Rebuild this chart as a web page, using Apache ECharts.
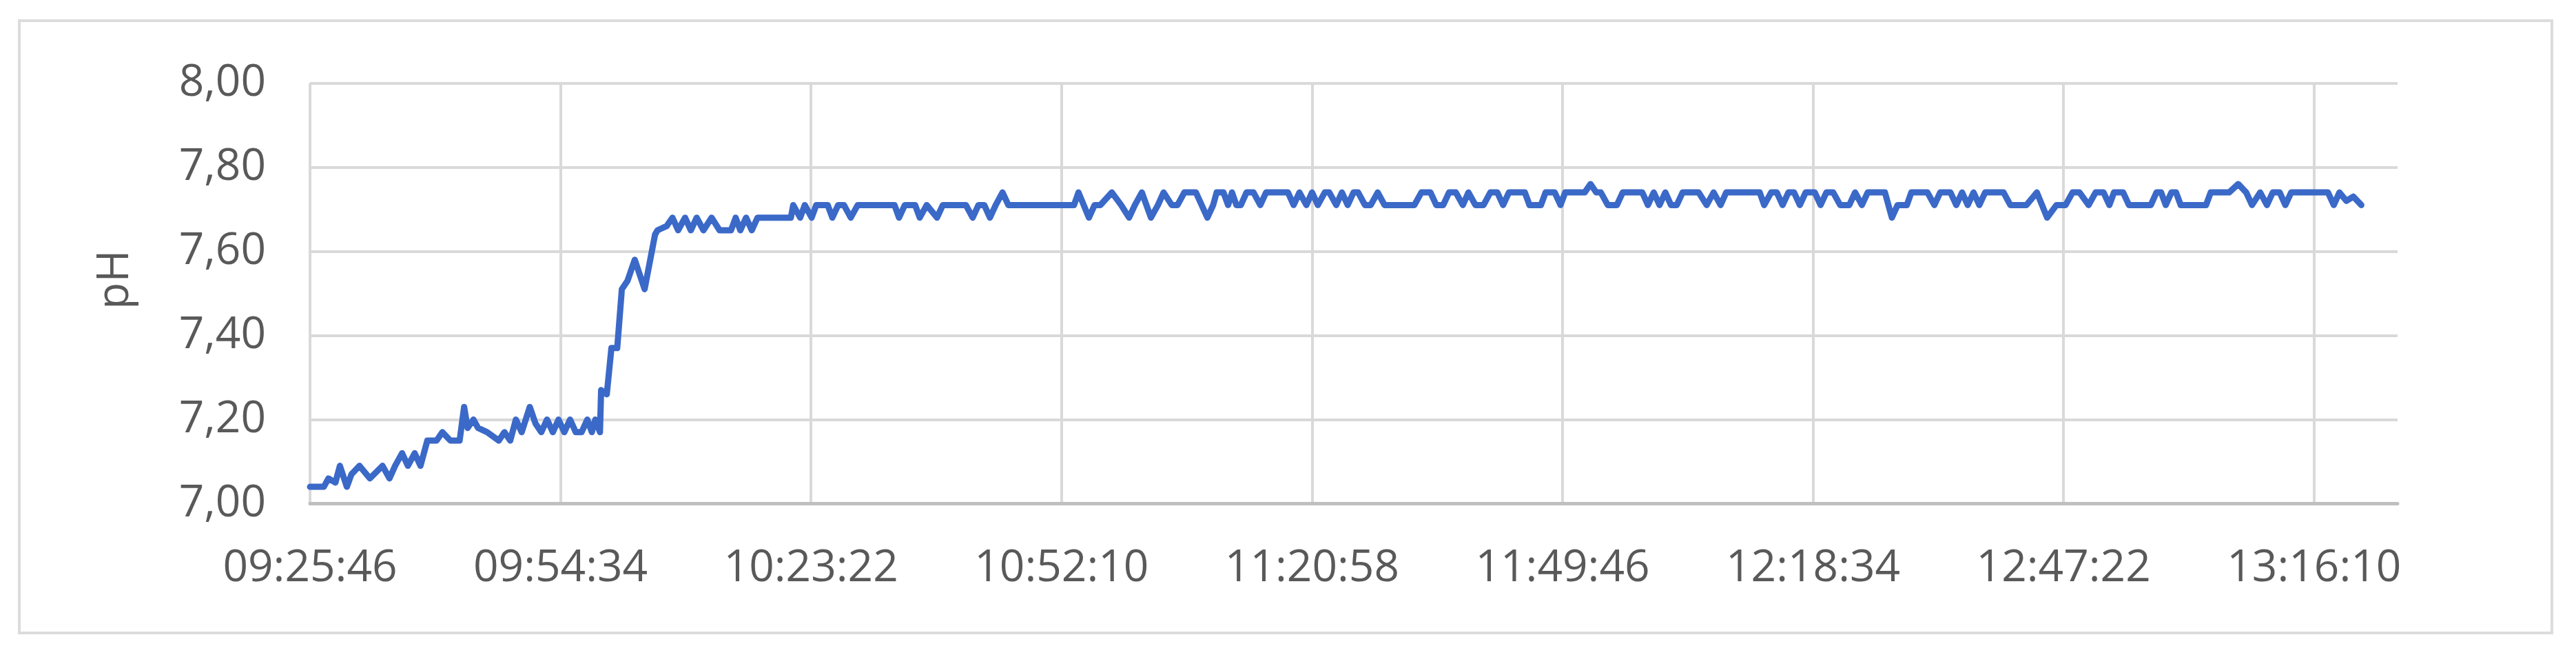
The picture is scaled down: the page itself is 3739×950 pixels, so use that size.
<!DOCTYPE html>
<html>
<head>
<meta charset="utf-8">
<script src="https://cdn.jsdelivr.net/npm/echarts@6/dist/echarts.min.js"></script>
<style>
  html, body { margin: 0; padding: 0; background: #fff; }
  #chart { width: 3739px; height: 950px; }
</style>
</head>
<body>
<div id="chart"></div>
<script>
// start of the log, seconds since midnight (09:25:46)
var startClock = 9 * 3600 + 25 * 60 + 46;

// elapsed seconds from start
var elapsedSec = [
  0, 95, 127, 175, 206, 254, 286, 341, 413, 500, 548, 587, 635, 675, 722, 762,
  809, 873, 913, 968, 1032, 1063, 1087, 1127, 1159, 1222, 1302, 1341, 1381, 1420,
  1460, 1516, 1556, 1595, 1635, 1675, 1714, 1754, 1794, 1833, 1873, 1913, 1944,
  1968, 2000, 2008, 2047, 2079, 2119, 2151, 2190, 2240, 2308, 2380, 2397, 2460,
  2500, 2539, 2587, 2627, 2667, 2714, 2770, 2825, 2904, 2936, 2968, 3008, 3047,
  3087, 3317, 3333, 3381, 3413, 3460, 3492, 3571, 3603, 3643, 3683, 3730, 3778,
  4032, 4063, 4103, 4174, 4206, 4254, 4325, 4365, 4524, 4571, 4611, 4651, 4690,
  4730, 4777, 4817, 5270, 5301, 5373, 5412, 5452, 5531, 5595, 5650, 5690, 5738,
  5801, 5849, 5888, 5944, 5984, 6031, 6111, 6190, 6230, 6254, 6301, 6333, 6360,
  6390, 6421, 6460, 6508, 6555, 6595, 6746, 6785, 6825, 6873, 6912, 6952, 7000,
  7031, 7079, 7118, 7158, 7198, 7230, 7277, 7317, 7365, 7412, 7618, 7666, 7729,
  7769, 7817, 7857, 7904, 7952, 7991, 8039, 8095, 8142, 8190, 8230, 8270, 8380,
  8412, 8491, 8523, 8586, 8626, 8658, 8793, 8833, 8872, 8904, 8952, 9015, 9055,
  9190, 9229, 9269, 9309, 9349, 9388, 9428, 9468, 9579, 9634, 9682, 9730, 9769,
  10000, 10031, 10079, 10118, 10158, 10198, 10237, 10277, 10317, 10380, 10420,
  10460, 10507, 10555, 10618, 10658, 10705, 10745, 10864, 10912, 10951, 11015,
  11046, 11157, 11205, 11245, 11316, 11356, 11396, 11435, 11475, 11515, 11555,
  11682, 11729, 11840, 11912, 11983, 12047, 12110, 12158, 12206, 12269, 12317,
  12372, 12412, 12444, 12507, 12547, 12698, 12737, 12769, 12801, 12840, 12872,
  12904, 13079, 13111, 13238, 13301, 13356, 13396, 13452, 13499, 13539, 13587,
  13626, 13666, 13920, 13960, 13999, 14047, 14095, 14150
];

var phValues = [
  7.04, 7.04, 7.06, 7.05, 7.09, 7.04, 7.07, 7.09, 7.06, 7.09, 7.06, 7.09, 7.12, 7.09, 7.12, 7.09,
  7.15, 7.15, 7.17, 7.15, 7.15, 7.23, 7.18, 7.20, 7.18, 7.17, 7.15, 7.17, 7.15, 7.20,
  7.17, 7.23, 7.19, 7.17, 7.20, 7.17, 7.20, 7.17, 7.20, 7.17, 7.17, 7.20, 7.17,
  7.20, 7.17, 7.27, 7.26, 7.37, 7.37, 7.51, 7.53, 7.58, 7.51, 7.64, 7.65, 7.66,
  7.68, 7.65, 7.68, 7.65, 7.68, 7.65, 7.68, 7.65, 7.65, 7.68, 7.65, 7.68, 7.65,
  7.68, 7.68, 7.71, 7.68, 7.71, 7.68, 7.71, 7.71, 7.68, 7.71, 7.71, 7.68, 7.71,
  7.71, 7.68, 7.71, 7.71, 7.68, 7.71, 7.68, 7.71, 7.71, 7.68, 7.71, 7.71, 7.68,
  7.71, 7.74, 7.71, 7.71, 7.74, 7.68, 7.71, 7.71, 7.74, 7.71, 7.68, 7.71, 7.74,
  7.68, 7.71, 7.74, 7.71, 7.71, 7.74, 7.74, 7.68, 7.71, 7.74, 7.74, 7.71, 7.74,
  7.71, 7.71, 7.74, 7.74, 7.71, 7.74, 7.74, 7.71, 7.74, 7.71, 7.74, 7.71, 7.74,
  7.74, 7.71, 7.74, 7.71, 7.74, 7.74, 7.71, 7.71, 7.74, 7.71, 7.71, 7.74, 7.74,
  7.71, 7.71, 7.74, 7.74, 7.71, 7.74, 7.71, 7.71, 7.74, 7.74, 7.71, 7.74, 7.74,
  7.71, 7.71, 7.74, 7.74, 7.71, 7.74, 7.74, 7.76, 7.74, 7.74, 7.71, 7.71, 7.74,
  7.74, 7.71, 7.74, 7.71, 7.74, 7.71, 7.71, 7.74, 7.74, 7.71, 7.74, 7.71, 7.74,
  7.74, 7.71, 7.74, 7.74, 7.71, 7.74, 7.74, 7.71, 7.74, 7.74, 7.71,
  7.74, 7.74, 7.71, 7.71, 7.74, 7.71, 7.74, 7.74, 7.68, 7.71, 7.71,
  7.74, 7.74, 7.71, 7.74, 7.74, 7.71, 7.74, 7.71, 7.74, 7.71, 7.74,
  7.74, 7.71, 7.71, 7.74, 7.68, 7.71, 7.71, 7.74, 7.74, 7.71, 7.74,
  7.74, 7.71, 7.74, 7.74, 7.71, 7.71, 7.74, 7.74, 7.71, 7.74, 7.74,
  7.71, 7.71, 7.74, 7.74, 7.76, 7.74, 7.71, 7.74, 7.71, 7.74, 7.74,
  7.71, 7.74, 7.74, 7.71, 7.74, 7.72, 7.73, 7.71
];

// axis settings
var xStep = 1728;      // 28:48 between labels
var xMax = 14400;      // 4 hours
var yTicks = [7.0, 7.2, 7.4, 7.6, 7.8, 8.0];

function pad(n) { return (n < 10 ? '0' : '') + n; }
function clock(sec) {
  var s = Math.round(startClock + sec);
  return pad(Math.floor(s / 3600)) + ':' + pad(Math.floor(s % 3600 / 60)) + ':' + pad(s % 60);
}

var lineData = [];
for (var i = 0; i < elapsedSec.length; i++) {
  lineData.push([elapsedSec[i], phValues[i]]);
}

var textColor = '#595959';
var fontName = 'Open Sans';

var myChart = echarts.init(document.getElementById('chart'));
var option = {
  backgroundColor: '#ffffff',
  animation: false,
  graphic: [{
    type: 'rect',
    shape: { x: 28, y: 30, width: 3676, height: 888 },
    style: { fill: 'none', stroke: '#dcdcdc', lineWidth: 4 },
    silent: true
  }],
  grid: {
    left: 450,
    right: 259,
    top: 120.5,
    bottom: 219.5
  },
  xAxis: {
    type: 'value',
    min: 0,
    max: xMax,
    interval: xStep,
    axisLine: { show: true, lineStyle: { color: '#bfbfbf', width: 5 } },
    axisTick: { show: false },
    axisLabel: {
      margin: 62,
      color: textColor,
      fontFamily: fontName,
      fontSize: 64,
      showMaxLabel: false,
      formatter: function (v) { return v >= xMax ? '' : clock(v); }
    },
    splitLine: {
      show: true,
      showMaxLine: false,
      lineStyle: { color: '#d9d9d9', width: 4 }
    }
  },
  yAxis: {
    type: 'value',
    min: yTicks[0],
    max: yTicks[yTicks.length - 1],
    interval: 0.2,
    name: 'pH',
    nameLocation: 'middle',
    nameGap: 250,
    nameTextStyle: {
      color: textColor,
      fontFamily: fontName,
      fontSize: 64,
      padding: [0, 0, 0, 40]
    },
    axisLine: { show: false },
    axisTick: { show: false },
    axisLabel: {
      margin: 64,
      color: textColor,
      fontFamily: fontName,
      fontSize: 64,
      formatter: function (v) { return v.toFixed(2).replace('.', ','); }
    },
    splitLine: { show: true, lineStyle: { color: '#d9d9d9', width: 4 } }
  },
  series: [{
    name: 'pH',
    type: 'line',
    data: lineData,
    showSymbol: false,
    lineStyle: { color: '#3b69c8', width: 9, cap: 'round', join: 'round' }
  }]
};
myChart.setOption(option);
</script>
</body>
</html>
